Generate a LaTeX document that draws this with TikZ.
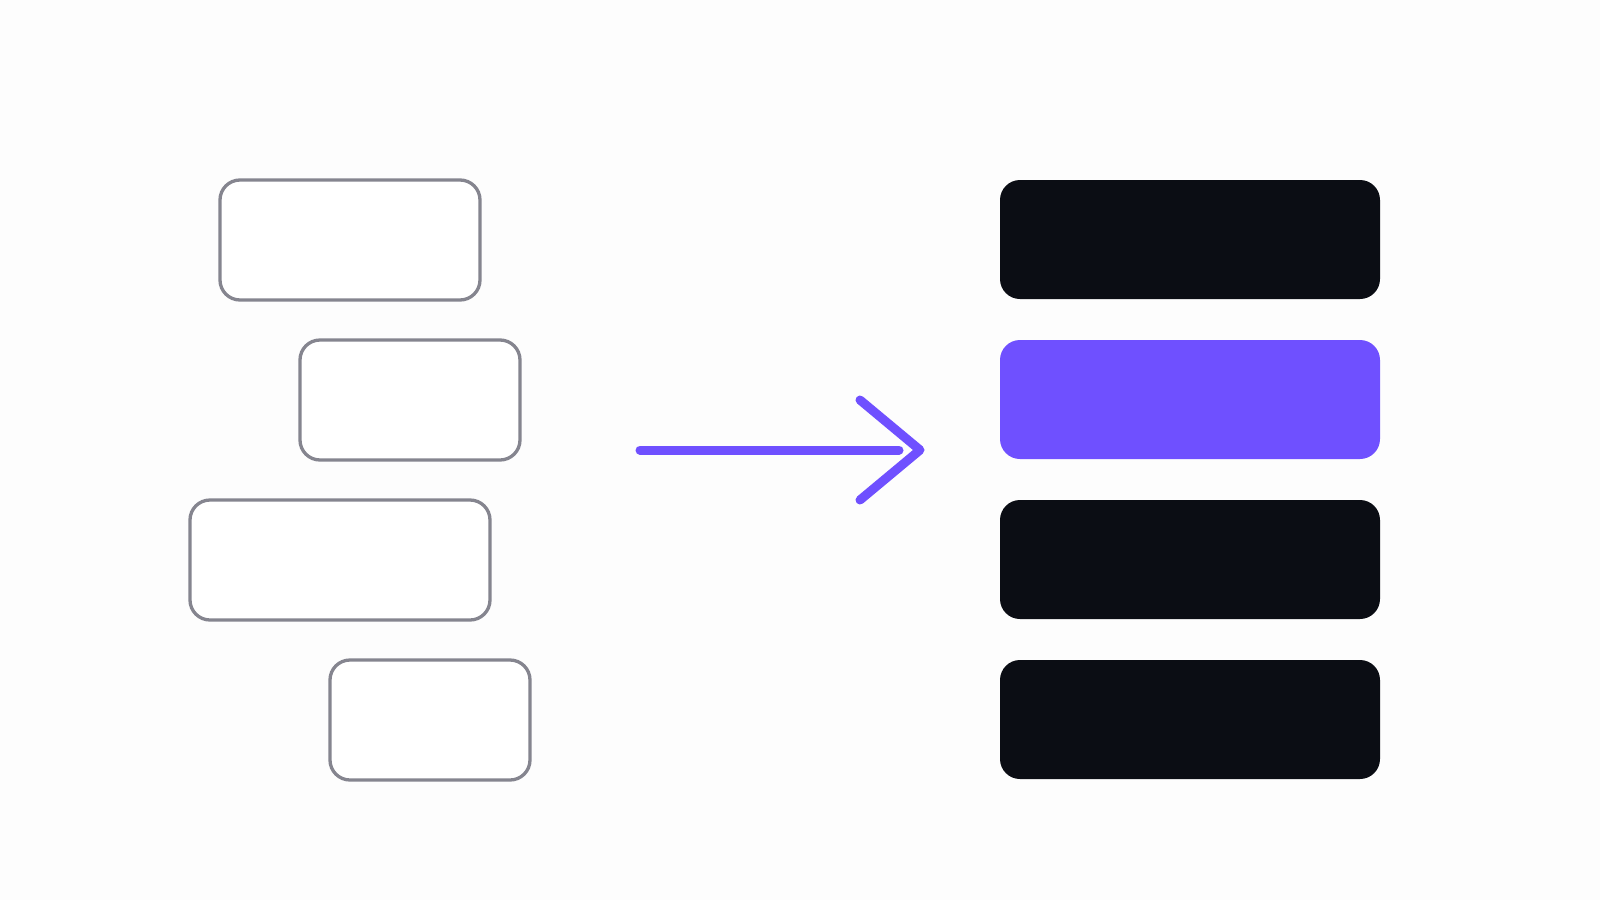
\documentclass[tikz,border=0pt]{standalone}
\definecolor{bgc}{HTML}{FDFDFD}
\definecolor{outl}{HTML}{85858F}
\definecolor{inkc}{HTML}{0B0D14}
\definecolor{violet}{HTML}{6F50FF}
\tikzset{
  loosebox/.style={draw=outl, line width=3.3pt, fill=white, rounded corners=20pt},
  darkbox/.style={fill=inkc, rounded corners=20pt},
  accentbox/.style={fill=violet, rounded corners=20pt},
  flow/.style={draw=violet, line width=9pt, line cap=round, line join=round}
}
\begin{document}
\begin{tikzpicture}[x=1pt,y=-1pt]
\fill[bgc] (0,0) rectangle (1600,900);
\useasboundingbox (0,0) rectangle (1600,900);
% left loose boxes
\path[loosebox] (220,180) rectangle (480,300);
\node[inner sep=0, minimum width=260pt, minimum height=120pt] (l1) at (350,240) {};
\path[loosebox] (300,340) rectangle (520,460);
\node[inner sep=0, minimum width=220pt, minimum height=120pt] (l2) at (410,400) {};
\path[loosebox] (190,500) rectangle (490,620);
\node[inner sep=0, minimum width=300pt, minimum height=120pt] (l3) at (340,560) {};
\path[loosebox] (330,660) rectangle (530,780);
\node[inner sep=0, minimum width=200pt, minimum height=120pt] (l4) at (430,720) {};
% right aligned boxes
\path[darkbox] (1000,180) rectangle (1380,299);
\node[inner sep=0, minimum width=380pt, minimum height=120pt] (r1) at (1190,240) {};
\path[accentbox] (1000,340) rectangle (1380,459);
\node[inner sep=0, minimum width=380pt, minimum height=120pt] (r2) at (1190,400) {};
\path[darkbox] (1000,500) rectangle (1380,619);
\node[inner sep=0, minimum width=380pt, minimum height=120pt] (r3) at (1190,560) {};
\path[darkbox] (1000,660) rectangle (1380,779);
\node[inner sep=0, minimum width=380pt, minimum height=120pt] (r4) at (1190,720) {};
% arrow
\coordinate (as) at (640,450);
\coordinate (ae) at (899,450);
\coordinate (tip) at (920,450);
\coordinate (ctop) at (860,400);
\coordinate (cbot) at (860,500);
\draw[flow] (as) -- (ae);
\draw[flow] (ctop) -- (tip) -- (cbot);
\end{tikzpicture}
\end{document}
